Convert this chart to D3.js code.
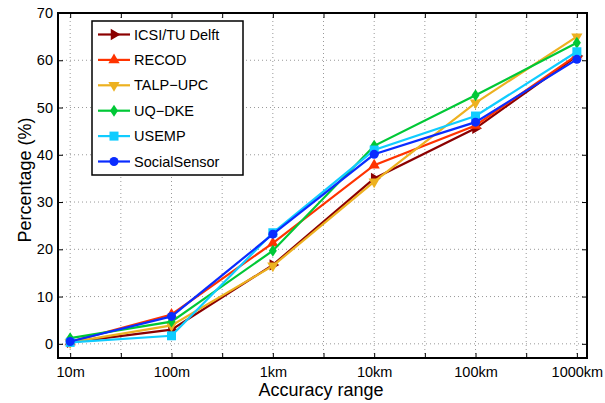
<!DOCTYPE html>
<html>
<head>
<meta charset="utf-8">
<script src="https://cdn.jsdelivr.net/npm/d3@7"></script>
<style>
  body { margin: 0; background: #fff; }
  text { font-family: 'Liberation Sans', Arial, sans-serif; }
</style>
</head>
<body>
<div id="container"></div>
<script>
const ranges = ['10m', '100m', '1km', '10km', '100km', '1000km'];
const yTicks = [0, 10, 20, 30, 40, 50, 60, 70];

const icsi = [0.3, 3.0, 16.7, 35.0, 45.6, 60.9];
const recod = [0.4, 6.2, 21.3, 37.8, 46.2, 61.1];
const talp = [0.3, 3.9, 16.5, 34.3, 51.0, 65.0];
const uqdke = [1.2, 4.7, 19.7, 41.9, 52.6, 63.7];
const usemp = [0.3, 1.7, 23.5, 41.0, 48.2, 61.8];
const social = [0.5, 5.8, 23.2, 40.1, 46.9, 60.2];

const series = [
    {name: 'ICSI/TU Delft', values: icsi, color: '#8b0000', marker: 'right'},
    {name: 'RECOD', values: recod, color: '#ff3300', marker: 'up'},
    {name: 'TALP\u2212UPC', values: talp, color: '#edb120', marker: 'down'},
    {name: 'UQ\u2212DKE', values: uqdke, color: '#00c836', marker: 'diamond'},
    {name: 'USEMP', values: usemp, color: '#10ccff', marker: 'square'},
    {name: 'SocialSensor', values: social, color: '#0a2cff', marker: 'circle'},
];

const W = 605, H = 403;
const m = {left: 58, right: 18, top: 13, bottom: 45};

const svg = d3.select('#container')
    .append('svg')
    .attr('width', W)
    .attr('height', H);

const x = d3.scaleLinear()
    .domain([-0.12, 5.1])
    .range([m.left, W - m.right]);
const y = d3.scaleLinear()
    .domain([-3, 70])
    .range([H - m.bottom, m.top]);

const xTickVals = d3.range(0, 5.01, 0.5);

// grid
const grid = svg.append('g');
xTickVals.forEach(v => {
    grid.append('line')
        .attr('x1', x(v)).attr('x2', x(v))
        .attr('y1', y.range()[1]).attr('y2', y.range()[0])
        .attr('stroke', '#999').attr('stroke-width', 1)
        .attr('stroke-dasharray', '1,3');
});
yTicks.forEach(v => {
    grid.append('line')
        .attr('x1', x.range()[0]).attr('x2', x.range()[1])
        .attr('y1', y(v)).attr('y2', y(v))
        .attr('stroke', '#999').attr('stroke-width', 1)
        .attr('stroke-dasharray', '1,3');
});

// axes with inward ticks
const fmtX = v => Number.isInteger(v) ? ranges[v] : '';
svg.append('g')
    .attr('transform', `translate(0,${y.range()[0]})`)
    .call(d3.axisBottom(x).tickValues(xTickVals).tickSize(-5).tickPadding(9).tickFormat(fmtX))
    .call(g => g.select('.domain').remove())
    .call(g => g.selectAll('text').style('font-size', '14.5px').attr('fill', '#000'));
svg.append('g')
    .attr('transform', `translate(0,${y.range()[1]})`)
    .call(d3.axisTop(x).tickValues(xTickVals).tickSize(-5).tickFormat(''))
    .call(g => g.select('.domain').remove());
svg.append('g')
    .attr('transform', `translate(${x.range()[0]},0)`)
    .call(d3.axisLeft(y).tickValues(yTicks).tickSize(-5).tickPadding(5))
    .call(g => g.select('.domain').remove())
    .call(g => g.selectAll('text').style('font-size', '14.5px').attr('fill', '#000'));
svg.append('g')
    .attr('transform', `translate(${x.range()[1]},0)`)
    .call(d3.axisRight(y).tickValues(yTicks).tickSize(-5).tickFormat(''))
    .call(g => g.select('.domain').remove());

// frame
svg.append('rect')
    .attr('x', x.range()[0]).attr('y', y.range()[1])
    .attr('width', x.range()[1] - x.range()[0])
    .attr('height', y.range()[0] - y.range()[1])
    .attr('fill', 'none').attr('stroke', '#000').attr('stroke-width', 2);

// markers
const triSym = d3.symbol().type(d3.symbolTriangle).size(55);
function drawMarker(g, kind, cx, cy, color) {
    if (kind === 'circle') {
        g.append('circle').attr('cx', cx).attr('cy', cy).attr('r', 4.5).attr('fill', color);
    } else if (kind === 'square') {
        g.append('rect').attr('x', cx - 4.5).attr('y', cy - 4.5).attr('width', 9).attr('height', 9).attr('fill', color);
    } else if (kind === 'diamond') {
        g.append('path').attr('d', `M${cx},${cy - 6}L${cx + 4},${cy}L${cx},${cy + 6}L${cx - 4},${cy}Z`).attr('fill', color);
    } else {
        const rot = {up: 0, down: 180, right: 90}[kind];
        g.append('path').attr('d', triSym())
            .attr('transform', `translate(${cx},${cy}) rotate(${rot})`)
            .attr('fill', color);
    }
}

const line = d3.line()
    .x((d, i) => x(i))
    .y(d => y(d));

series.forEach(s => {
    const g = svg.append('g');
    g.append('path')
        .attr('d', line(s.values))
        .attr('fill', 'none')
        .attr('stroke', s.color)
        .attr('stroke-width', 2.2);
    s.values.forEach((v, i) => drawMarker(g, s.marker, x(i), y(v), s.color));
});

// legend
const leg = svg.append('g').attr('transform', 'translate(92,21)');
leg.append('rect')
    .attr('width', 151).attr('height', 154)
    .attr('fill', '#fff').attr('stroke', '#000').attr('stroke-width', 1.5);
series.forEach((s, i) => {
    const cy = 13.5 + i * 25.4;
    leg.append('line')
        .attr('x1', 6).attr('x2', 38).attr('y1', cy).attr('y2', cy)
        .attr('stroke', s.color).attr('stroke-width', 2.2);
    drawMarker(leg, s.marker, 22, cy, s.color);
    leg.append('text')
        .attr('x', 42).attr('y', cy + 5)
        .style('font-size', '14.5px')
        .text(s.name);
});

// axis titles
svg.append('text')
    .attr('x', 321)
    .attr('y', 396)
    .attr('text-anchor', 'middle')
    .style('font-size', '18px')
    .text('Accuracy range');
svg.append('text')
    .attr('transform', 'translate(31,180) rotate(-90)')
    .attr('text-anchor', 'middle')
    .style('font-size', '18px')
    .text('Percentage (%)');
</script>
</body>
</html>
